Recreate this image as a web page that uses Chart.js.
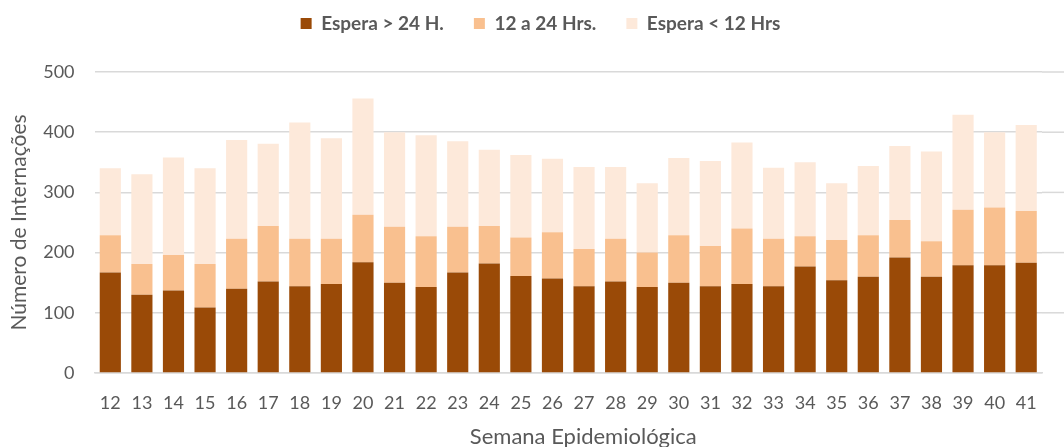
<!DOCTYPE html>
<html><head><meta charset="utf-8">
<script src="https://cdn.jsdelivr.net/npm/chart.js@4"></script>
<style>html,body{margin:0;padding:0;background:#fff;overflow:hidden}#w{width:1064px;height:450px}</style>
</head><body><div id="w"><canvas id="c"></canvas></div>
<script>
const weeks = ["12","13","14","15","16","17","18","19","20","21","22","23","24","25","26","27","28","29","30","31","32","33","34","35","36","37","38","39","40","41"];
const over24 = [167,130,137,109,140,152,144,148,184,150,143,167,182,161,157,144,152,143,150,144,148,144,177,154,160,192,160,179,179,183];
const h12to24 = [62,51,59,72,83,92,79,75,79,93,84,76,62,64,77,62,71,57,79,67,92,79,50,67,69,62,59,92,96,86];
const under12 = [111,149,162,159,164,137,193,167,193,157,168,142,127,137,122,136,119,115,128,141,143,118,123,94,115,123,149,158,125,143];
const yTicks = [0,100,200,300,400,500];

const font = "Lato, 'Open Sans', sans-serif";
const legendTweak = {
  id: 'legendTweak',
  beforeInit(chart) {
    const lg = chart.legend;
    const orig = lg.fit;
    lg.fit = function() { orig.call(this); this.height = 72; };
  },
  afterLayout(chart) {
    const lg = chart.legend;
    lg.left += 16; lg.right += 16;
    lg.top -= 16; lg.bottom -= 16;
    const sx = chart.scales.x;
    if (!sx._titleShifted) {
      const origTitle = sx.drawTitle;
      sx.drawTitle = function() {
        const ctx = this.ctx; ctx.save(); ctx.translate(15, 0);
        origTitle.apply(this, arguments); ctx.restore();
      };
      sx._titleShifted = true;
    }
  }
};
const gridExtend = {
  id: 'gridExtend',
  beforeDatasetsDraw(chart) {
    const y = chart.scales.y, ctx = chart.ctx, a = chart.chartArea;
    ctx.save();
    ctx.strokeStyle = '#D9D9D9'; ctx.lineWidth = 1.5;
    y.ticks.forEach(t => {
      if (t.value === 0) return;
      const py = y.getPixelForValue(t.value);
      ctx.beginPath(); ctx.moveTo(a.right, py); ctx.lineTo(chart.width, py); ctx.stroke();
    });
    ctx.restore();
  }
};
new Chart(document.getElementById('c'), {
  type: 'bar',
  data: {
    labels: weeks,
    datasets: [
      {label: 'Espera > 24 H.', data: over24, backgroundColor: '#9A4A07'},
      {label: '12 a 24 Hrs.', data: h12to24, backgroundColor: '#F9C08F'},
      {label: 'Espera < 12 Hrs', data: under12, backgroundColor: '#FDE9DA'}
    ]
  },
  plugins: [legendTweak, gridExtend],
  options: {
    responsive: true, maintainAspectRatio: false, animation: false,
    datasets: {bar: {categoryPercentage: 1, barPercentage: 0.67}},
    layout: {padding: {left: 7, right: 22, top: 0, bottom: 0}},
    plugins: {
      legend: {position: 'top', labels: {boxWidth: 11, boxHeight: 11, padding: 30, color: '#595959', font: {family: font, size: 19, weight: 'bold'}}},
      tooltip: {enabled: false}
    },
    scales: {
      x: {stacked: true, grid: {display: false, drawTicks: false}, border: {color: '#D9D9D9', width: 1.5},
          ticks: {color: '#595959', font: {family: font, size: 18}, padding: 19, maxRotation: 0, autoSkip: false},
          title: {display: true, text: 'Semana Epidemiológica', color: '#595959', font: {family: font, size: 22}, padding: {top: -9, bottom: 0}}},
      y: {stacked: true, min: 0, max: 500,
          afterBuildTicks: (ax) => { ax.ticks = yTicks.map(v => ({value: v})); },
          grid: {color: '#D9D9D9', lineWidth: 1.5, drawTicks: false}, border: {display: false},
          ticks: {color: '#595959', font: {family: font, size: 18}, padding: 20},
          title: {display: true, text: 'Número de Internações', color: '#595959', font: {family: font, size: 21}, padding: {top: 0, bottom: -9}}}
    }
  }
});
</script></body></html>
